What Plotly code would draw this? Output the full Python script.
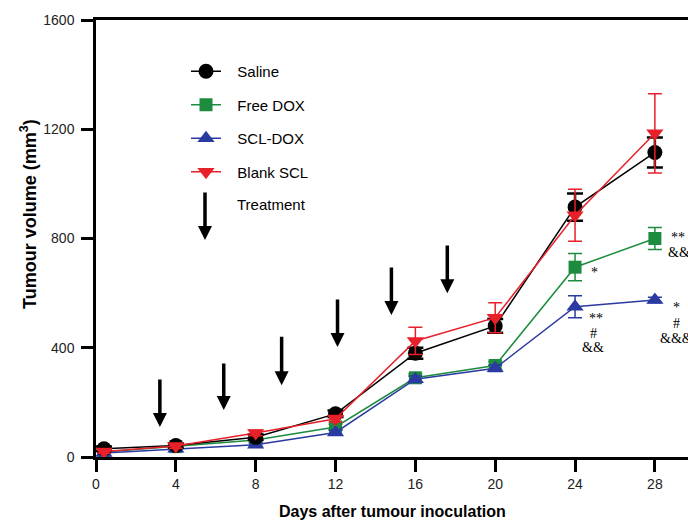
import plotly.graph_objects as go

# ---- data ----
days = [0.4, 4, 8, 12, 16, 20, 24, 28]

saline = [30, 42, 72, 158, 380, 480, 915, 1115]
saline_err = [8, 8, 10, 12, 20, 25, 50, 55]

free_dox = [18, 38, 62, 110, 290, 335, 695, 800]
free_dox_err = [6, 6, 8, 10, 15, 15, 50, 40]

scl_dox = [15, 30, 45, 90, 285, 325, 550, 575]
scl_dox_err = [5, 5, 6, 8, 12, 12, 40, 10]

blank_scl = [20, 40, 88, 140, 425, 510, 885, 1185]
blank_scl_err = [6, 8, 10, 12, 50, 55, 95, 145]

treat_days = [3.2, 6.4, 9.3, 12.1, 14.8, 17.6]
treat_tip = [110, 172, 263, 403, 520, 600]
treat_top = [289, 348, 446, 582, 699, 780]

sig_text = ["**", "&&", "*", "**", "#", "&&", "*", "#", "&&&"]
sig_day = [29.15, 29.2, 24.95, 25.05, 24.9, 24.9, 29.06, 29.06, 29.06]
sig_val = [805, 750, 677, 506, 452, 400, 549, 490, 435]

x_ticks = [0, 4, 8, 12, 16, 20, 24, 28]
y_ticks = [0, 400, 800, 1200, 1600]

BLACK = "#000000"
GREEN = "#1e8c3e"
BLUE = "#2a3aa0"
RED = "#e8202a"

SANS = "Liberation Sans, Arial"
PAD = "\u00a0\u00a0\u2009"

fig = go.Figure()

def add(name, y, err, color, symbol, size, rank, lw=1.5, ew=1.5, cw=7):
    fig.add_trace(go.Scatter(
        x=days, y=y, name=PAD + name, mode="lines+markers",
        line=dict(color=color, width=lw),
        marker=dict(color=color, symbol=symbol, size=size, line=dict(width=0)),
        error_y=dict(type="data", array=err, visible=True, color=color,
                     thickness=ew, width=cw),
        legendgroup=name, legendrank=rank,
    ))

add("Free DOX", free_dox, free_dox_err, GREEN, "square", 13, 2)
add("SCL-DOX", scl_dox, scl_dox_err, BLUE, "triangle-up", 15, 3)
add("Saline", saline, saline_err, BLACK, "circle", 15, 1, lw=1.5, ew=2.5, cw=8)
add("Blank SCL", blank_scl, blank_scl_err, RED, "triangle-down", 15, 4)

annotations = []
for d, tip, top in zip(treat_days, treat_tip, treat_top):
    annotations.append(dict(
        x=d, y=tip, ax=d, ay=top, xref="x", yref="y", axref="x", ayref="y",
        text="", showarrow=True, arrowhead=2, arrowwidth=3.5, arrowsize=0.8,
        arrowcolor="black", standoff=0, startstandoff=0,
    ))

for t, d, v in zip(sig_text, sig_day, sig_val):
    annotations.append(dict(
        x=d, y=v, xref="x", yref="y", text=t, showarrow=False,
        font=dict(family="Liberation Serif", size=14, color="black"),
        xanchor="center", yanchor="middle",
    ))

# legend "Treatment" entry
annotations.append(dict(
    x=(205 - 96) / 592, y=(457 - 240) / 437, xref="paper", yref="paper",
    ax=0, ay=-49, text="", showarrow=True, arrowhead=2, arrowwidth=3.5,
    arrowsize=0.8, arrowcolor="black", standoff=0,
))
annotations.append(dict(
    x=(235 - 96) / 592, y=(457 - 204) / 437, xref="paper", yref="paper",
    text="Treatment", showarrow=False, xanchor="left", yanchor="middle",
    font=dict(family=SANS, size=15, color="black"),
))

# axis titles
annotations.append(dict(
    x=0.5, y=(457 - 511) / 437, xref="paper", yref="paper",
    text="<b>Days after tumour inoculation</b>", showarrow=False,
    xanchor="center", yanchor="middle",
    font=dict(family=SANS, size=16, color="black"),
))
annotations.append(dict(
    x=(28 - 96) / 592, y=(457 - 214) / 437, xref="paper", yref="paper",
    text="<b>Tumour volume (mm<sup>3</sup>)</b>", showarrow=False,
    textangle=-90, xanchor="center", yanchor="middle",
    font=dict(family=SANS, size=18, color="black"),
))

fig.update_layout(
    width=688, height=521,
    margin=dict(l=96, r=0, t=20, b=64),
    paper_bgcolor="white", plot_bgcolor="white",
    font=dict(family=SANS, size=14, color="black"),
    showlegend=True,
    legend=dict(
        x=90 / 592, y=(457 - 55) / 437,
        xanchor="left", yanchor="top",
        bgcolor="rgba(0,0,0,0)", tracegroupgap=11,
        font=dict(family=SANS, size=15), itemwidth=30,
    ),
    annotations=annotations,
    xaxis=dict(
        range=[0, (688 - 96) / 19.96], automargin=False,
        tickvals=x_ticks, ticktext=[str(t) for t in x_ticks],
        ticks="outside", ticklen=12, tickwidth=2.5, tickcolor="black",
        showline=True, linewidth=2.5, linecolor="black", mirror=True,
        showgrid=False, zeroline=False,
        tickfont=dict(size=14, color="#222222"),
    ),
    yaxis=dict(
        range=[0, 1600], automargin=False,
        tickvals=y_ticks, ticktext=[str(t) for t in y_ticks],
        ticks="outside", ticklen=12, tickwidth=2.5, tickcolor="black",
        showline=True, linewidth=2.5, linecolor="black",
        showgrid=False, zeroline=False, ticklabelstandoff=4,
        tickfont=dict(size=14, color="#222222"),
    ),
)

fig.write_html(
    "out.html",
    config={"displayModeBar": False},
    post_script="document.body.style.margin='0';document.body.style.overflow='hidden';",
)
